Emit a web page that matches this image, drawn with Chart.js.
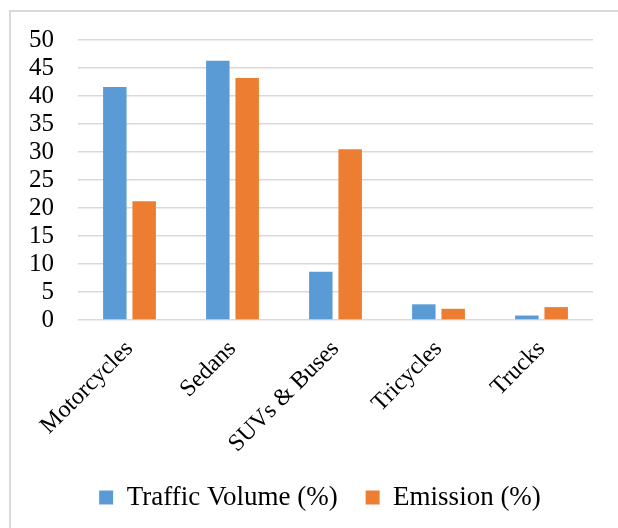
<!DOCTYPE html>
<html>
<head>
<meta charset="utf-8">
<script src="https://cdn.jsdelivr.net/npm/chart.js@4/dist/chart.umd.min.js"></script>
<style>
  html, body { margin: 0; padding: 0; background: #ffffff; overflow: hidden; }
  #wrap { position: relative; width: 618px; height: 528px; overflow: hidden; }
  #frame { position: absolute; left: 9px; top: 10px; width: 800px; height: 800px;
           border-left: 2px solid #d9d9d9; border-top: 2px solid #d9d9d9; pointer-events: none; }
  canvas { position: absolute; left: -22px; top: 0; }
</style>
</head>
<body>
<div id="wrap">
  <canvas id="c" width="640" height="528"></canvas>
  <div id="frame"></div>
</div>
<script>
const categories = ["Motorcycles", "Sedans", "SUVs & Buses", "Tricycles", "Trucks"];
const trafficVolume = [41.6, 46.3, 8.6, 2.8, 0.8];
const emission = [21.2, 43.2, 30.5, 2.0, 2.3];
const yTicks = [0, 5, 10, 15, 20, 25, 30, 35, 40, 45, 50];

const FONT = "'Liberation Serif', 'Times New Roman', serif";

const legendShift = {
  id: 'legendShift',
  afterLayout(chart) {
    const l = chart.legend;
    if (l) { l.left += 21; l.right += 21; }
  }
};

new Chart(document.getElementById('c'), {
  type: 'bar',
  data: {
    labels: categories,
    datasets: [
      { label: 'Traffic Volume (%)', data: trafficVolume, backgroundColor: '#5b9bd5',
        categoryPercentage: 0.57, barPercentage: 0.8 },
      { label: 'Emission (%)', data: emission, backgroundColor: '#ed7d31',
        categoryPercentage: 0.57, barPercentage: 0.8 }
    ]
  },
  plugins: [legendShift],
  options: {
    responsive: false,
    animation: false,
    devicePixelRatio: 1,
    layout: { padding: { left: 27, right: 25, top: 40, bottom: 7 } },
    plugins: {
      legend: {
        position: 'bottom',
        labels: {
          font: { family: FONT, size: 27 },
          color: '#000000',
          boxWidth: 14, boxHeight: 14,
          padding: 28
        }
      },
      tooltip: { enabled: false }
    },
    scales: {
      x: {
        grid: { display: false, drawTicks: false },
        border: { display: false },
        afterFit: (scale) => { scale.height = 136; },
        ticks: {
          font: { family: FONT, size: 24 },
          color: '#000000',
          minRotation: 45, maxRotation: 45,
          padding: 15,
          autoSkip: false
        }
      },
      y: {
        min: 0, max: 50,
        afterBuildTicks: (scale) => { scale.ticks = yTicks.map(v => ({ value: v })); },
        grid: { color: '#d9d9d9', lineWidth: 1.5, drawTicks: false },
        border: { display: false },
        ticks: {
          font: { family: FONT, size: 25 },
          color: '#000000',
          padding: 24,
          autoSkip: false
        }
      }
    }
  }
});
</script>
</body>
</html>
